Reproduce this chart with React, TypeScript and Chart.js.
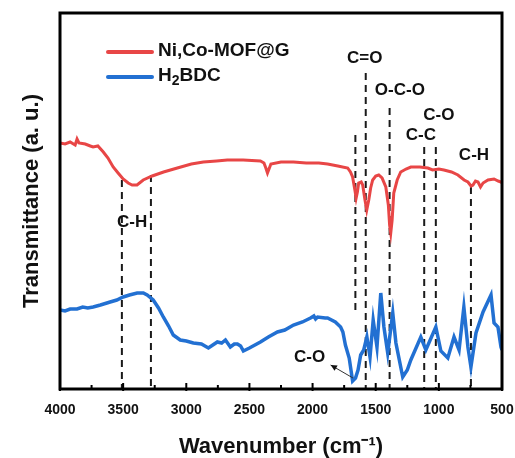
import React, { useEffect, useRef } from "react";
import { Chart, registerables } from "chart.js";

Chart.register(...registerables);

// ---- data ----
const seriesNames = ["Ni,Co-MOF@G", "H₂BDC"];
const seriesColors = ["#e84646", "#2270d2"];

const mofWavenumber = [
  4000, 3960, 3920, 3880, 3865, 3850, 3800, 3760, 3738, 3700, 3657, 3620, 3579, 3540, 3500, 3460, 3429, 3390,
  3341, 3270, 3180, 3071, 2960, 2865, 2760, 2675, 2550, 2413, 2385, 2370, 2357, 2345, 2330, 2250, 2151, 2050,
  1950, 1881, 1800, 1722, 1700, 1683, 1665, 1655, 1645, 1635, 1615, 1603, 1585, 1571, 1555, 1540, 1524, 1500,
  1476, 1450, 1420, 1400, 1390, 1381, 1370, 1357, 1330, 1302, 1260, 1222, 1150, 1087, 1050, 1000, 960, 900,
  849, 800, 770, 745, 730, 710, 690, 670, 650, 611, 563, 530, 508, 500,
];
const mofTransmittance = [
  246, 245, 247, 244, 250, 246, 245, 243, 242, 243, 237, 231, 222, 216, 210, 206, 204, 204,
  209, 213, 217, 221, 225, 227, 228, 229, 229, 228, 226, 221, 216, 220, 225, 227, 227, 226,
  226, 225, 223, 221, 217, 212, 199, 191, 197, 206, 207, 204, 189, 179, 189, 201, 209, 213,
  214, 211, 202, 184, 164, 156, 169, 196, 209, 217, 220, 222, 222, 221, 219, 220, 219, 217,
  214, 209, 207, 203, 204, 208, 207, 202, 206, 209, 210, 208, 207, 206,
];

const bdcWavenumber = [
  4000, 3960, 3920, 3865, 3820, 3780, 3738, 3680, 3603, 3550, 3500, 3450, 3389, 3340, 3310, 3262, 3220, 3182,
  3140, 3103, 3070, 3048, 3000, 2944, 2880, 2825, 2790, 2754, 2720, 2690, 2651, 2620, 2595, 2570, 2548, 2500,
  2413, 2350, 2278, 2220, 2151, 2080, 2016, 1990, 1976, 1960, 1900, 1881, 1820, 1778, 1760, 1740, 1710, 1683,
  1660, 1640, 1619, 1595, 1570, 1545, 1520, 1490, 1460, 1435, 1405, 1365, 1340, 1286, 1250, 1222, 1143, 1103,
  1024, 984, 929, 880, 840, 802, 770, 746, 706, 650, 587, 563, 532, 508, 500,
];
const bdcTransmittance = [
  79, 78, 80, 80, 82, 81, 82, 84, 87, 89, 92, 94, 96, 96, 94, 89, 81, 72,
  63, 54, 51, 49, 48, 46, 45, 41, 44, 47, 46, 49, 42, 45, 45, 43, 38, 41,
  47, 52, 57, 59, 64, 67, 71, 73, 70, 72, 71, 71, 67, 62, 57, 44, 31, 8,
  11, 19, 34, 39, 52, 32, 69, 42, 96, 62, 36, 76, 46, 12, 19, 29, 52, 39,
  62, 38, 31, 52, 39, 82, 42, 22, 56, 77, 94, 66, 62, 42, 39,
];

const xTickValues = [4000, 3500, 3000, 2500, 2000, 1500, 1000, 500];

// dashed band markers (wavenumber, top / bottom transmittance)
const markerWavenumber = [3510, 3280, 1661, 1579, 1390, 1116, 1024, 746];
const markerTop = [209, 214, 254, 316, 281, 242, 242, 202];
const markerBottom = [0, 0, 74, 0, 0, 0, 0, 0];

// band labels
const bandLabels = ["C-H", "C=O", "O-C-O", "C-O", "C-C", "C-H", "C-O"];
const bandLabelWavenumber = [3429, 1587, 1309, 1000, 1143, 722, 2024];
const bandLabelTransmittance = [167, 331, 299, 274, 254, 234, 32];

// arrow for lower C-O label: from peak to label
const arrowWavenumber = [1680, 1857];
const arrowTransmittance = [11, 24];

const FONT = "'Liberation Sans', Arial, sans-serif";

function drawRichText(ctx: CanvasRenderingContext2D, text: string, x: number, y: number, size: number) {
  let cx = x;
  for (const ch of text) {
    if (ch === "₂") {
      ctx.font = `bold ${Math.round(size * 0.72)}px ${FONT}`;
      ctx.fillText("2", cx, y + size * 0.28);
      cx += ctx.measureText("2").width;
    } else {
      ctx.font = `bold ${size}px ${FONT}`;
      ctx.fillText(ch, cx, y);
      cx += ctx.measureText(ch).width;
    }
  }
}

const decorPlugin = {
  id: "decor",
  beforeDatasetsDraw(chart: any) {
    const { ctx, scales } = chart;
    const xs = scales.x;
    const ys = scales.y;
    ctx.save();
    ctx.strokeStyle = "#1a1a1a";
    ctx.lineWidth = 2;
    ctx.setLineDash([7, 5]);
    markerWavenumber.forEach((w, i) => {
      const px = xs.getPixelForValue(w);
      ctx.beginPath();
      ctx.moveTo(px, ys.getPixelForValue(markerTop[i]));
      ctx.lineTo(px, ys.getPixelForValue(markerBottom[i]));
      ctx.stroke();
    });
    ctx.restore();
  },
  afterDatasetsDraw(chart: any) {
    const { ctx, scales, chartArea } = chart;
    const xs = scales.x;
    const ys = scales.y;
    ctx.save();
    // frame
    ctx.strokeStyle = "#000";
    ctx.lineWidth = 3;
    ctx.strokeRect(chartArea.left, chartArea.top, chartArea.right - chartArea.left, chartArea.bottom - chartArea.top);
    // inward ticks
    ctx.lineWidth = 2;
    for (let w = 500; w <= 4000; w += 250) {
      const px = xs.getPixelForValue(w);
      const major = w % 500 === 0;
      ctx.beginPath();
      ctx.moveTo(px, chartArea.bottom + (major ? 2 : 0));
      ctx.lineTo(px, chartArea.bottom - (major ? 6 : 4));
      ctx.stroke();
    }
    // band labels
    ctx.fillStyle = "#111";
    ctx.font = `bold 17px ${FONT}`;
    ctx.textAlign = "center";
    ctx.textBaseline = "middle";
    bandLabels.forEach((t, i) => {
      ctx.fillText(t, xs.getPixelForValue(bandLabelWavenumber[i]), ys.getPixelForValue(bandLabelTransmittance[i]));
    });
    // arrow
    const ax0 = xs.getPixelForValue(arrowWavenumber[0]);
    const ay0 = ys.getPixelForValue(arrowTransmittance[0]);
    const ax1 = xs.getPixelForValue(arrowWavenumber[1]);
    const ay1 = ys.getPixelForValue(arrowTransmittance[1]);
    ctx.strokeStyle = "#333";
    ctx.lineWidth = 1;
    ctx.beginPath();
    ctx.moveTo(ax0, ay0);
    ctx.lineTo(ax1, ay1);
    ctx.stroke();
    const ang = Math.atan2(ay1 - ay0, ax1 - ax0);
    ctx.fillStyle = "#111";
    ctx.beginPath();
    ctx.moveTo(ax1, ay1);
    ctx.lineTo(ax1 - 7 * Math.cos(ang - 0.45), ay1 - 7 * Math.sin(ang - 0.45));
    ctx.lineTo(ax1 - 7 * Math.cos(ang + 0.45), ay1 - 7 * Math.sin(ang + 0.45));
    ctx.closePath();
    ctx.fill();
    // legend
    const lx = chartArea.left + 48;
    const ly = chartArea.top + 39;
    ctx.textAlign = "left";
    ctx.textBaseline = "middle";
    chart.data.datasets.forEach((ds: any, i: number) => {
      const y = ly + i * 25;
      ctx.strokeStyle = ds.borderColor;
      ctx.lineWidth = 4;
      ctx.lineCap = "round";
      ctx.beginPath();
      ctx.moveTo(lx, y);
      ctx.lineTo(lx + 44, y);
      ctx.stroke();
      ctx.fillStyle = "#111";
      drawRichText(ctx, ds.label, lx + 50, y - 1, 19);
    });
    ctx.restore();
  },
};

export default function App() {
  const ref = useRef<HTMLCanvasElement | null>(null);
  useEffect(() => {
    document.body.style.margin = "0";
    const canvas = ref.current;
    if (!canvas) return;
    const chart = new Chart(canvas, {
      type: "line",
      data: {
        datasets: [
          {
            label: seriesNames[0],
            data: mofWavenumber.map((w, i) => ({ x: w, y: mofTransmittance[i] })),
            borderColor: seriesColors[0],
            borderWidth: 3,
            pointRadius: 0,
            tension: 0,
          },
          {
            label: seriesNames[1],
            data: bdcWavenumber.map((w, i) => ({ x: w, y: bdcTransmittance[i] })),
            borderColor: seriesColors[1],
            borderWidth: 3.5,
            pointRadius: 0,
            tension: 0,
          },
        ],
      },
      options: {
        responsive: false,
        animation: false,
        devicePixelRatio: 1,
        layout: { padding: { top: 13, right: 13, left: 0, bottom: 0 } },
        plugins: { legend: { display: false }, tooltip: { enabled: false } },
        scales: {
          x: {
            type: "linear",
            reverse: true,
            min: 500,
            max: 4000,
            grid: { display: false, drawTicks: false },
            border: { display: false },
            afterBuildTicks: (s: any) => {
              s.ticks = xTickValues.map((v) => ({ value: v }));
            },
            afterFit: (s: any) => {
              s.height = 69;
              s.paddingLeft = 0;
              s.paddingRight = 0;
            },
            ticks: {
              color: "#111",
              padding: 13,
              maxRotation: 0,
              autoSkip: false,
              font: { family: FONT, size: 14, weight: "bold" },
              callback: (v: any) => String(v),
            },
            title: {
              display: true,
              text: "Wavenumber (cm⁻¹)",
              color: "#111",
              padding: { top: 0, bottom: 0 },
              font: { family: FONT, size: 22, weight: "bold", lineHeight: 1 },
            },
          },
          y: {
            min: 0,
            max: 376,
            grid: { display: false, drawTicks: false },
            border: { display: false },
            ticks: { display: false },
            afterFit: (s: any) => {
              s.width = 60;
              s.paddingTop = 0;
              s.paddingBottom = 0;
            },
            title: {
              display: true,
              text: "Transmittance (a. u.)",
              color: "#111",
              padding: { top: 21, bottom: 0 },
              font: { family: FONT, size: 22, weight: "bold", lineHeight: 1 },
            },
          },
        },
      },
      plugins: [decorPlugin],
    } as any);
    return () => chart.destroy();
  }, []);
  return <canvas ref={ref} width={515} height={458} style={{ display: "block" }} />;
}
